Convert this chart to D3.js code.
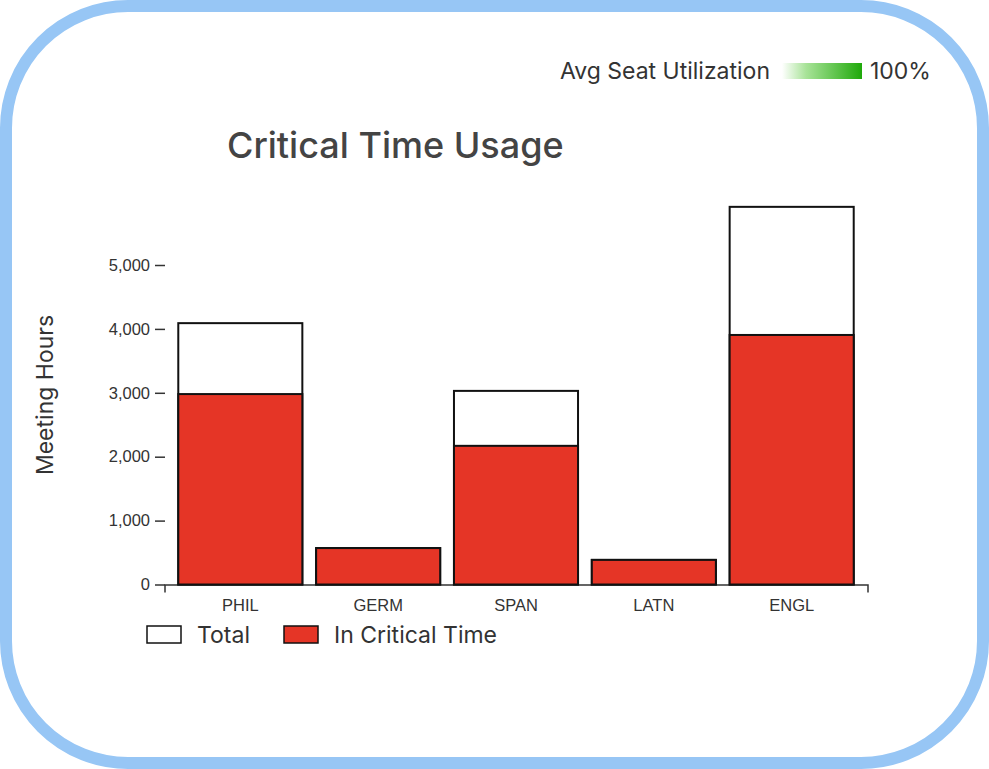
<!DOCTYPE html>
<html lang="en">
<head>
    <meta charset="UTF-8">
    <title>Critical Time Usage</title>
    <script src="https://d3js.org/d3.v7.min.js"></script>
    <style>
        html, body { margin: 0; padding: 0; background: #fff; }
        svg { display: block; }
        .tick text { font: 16.5px "Liberation Sans", sans-serif; fill: #333; }
        .label { font-family: "Inter", sans-serif; font-size: 23px; fill: #333; }
        .title { font-family: "Inter", sans-serif; font-size: 36px; font-weight: 500; fill: #444; }
    </style>
</head>
<body>
    <div id="chart"></div>
    <script>
        const departments = ["PHIL", "GERM", "SPAN", "LATN", "ENGL"];
        const totalHours = [4090, 570, 3030, 385, 5910];
        const criticalHours = [2980, 570, 2170, 385, 3905];
        const yTicks = [0, 1000, 2000, 3000, 4000, 5000];
        const legendItems = ["Total", "In Critical Time"];
        const legendColors = ["#fff", "#e53526"];
        const gradientStops = ["#ffffff", "#a8e398", "#1fa90a"];
        const gradientOffsets = ["0%", "30%", "100%"];

        const width = 989, height = 769;

        const svg = d3.select("#chart").append("svg")
            .attr("width", width)
            .attr("height", height);

        // rounded frame
        svg.append("rect")
            .attr("x", 6).attr("y", 6)
            .attr("width", width - 12).attr("height", height - 12)
            .attr("rx", 122).attr("ry", 122)
            .attr("fill", "#fff")
            .attr("stroke", "#97c6f5")
            .attr("stroke-width", 12);

        const x = d3.scaleBand()
            .domain(departments)
            .range([164.5, 867.5])
            .paddingInner(0.1)
            .paddingOuter(0.1);

        const y = d3.scaleLinear()
            .domain([0, 5000])
            .range([584.5, 265]);

        const xAxis = svg.append("g")
            .attr("transform", "translate(0,584.5)")
            .call(d3.axisBottom(x).tickSizeInner(0).tickSizeOuter(8).tickPadding(15));
        xAxis.select(".domain").attr("stroke", "#333").attr("stroke-width", 1.5);

        const yAxis = svg.append("g")
            .attr("transform", "translate(165,0)")
            .call(d3.axisLeft(y).tickValues(yTicks).tickFormat(d3.format(",")).tickSize(10).tickPadding(5));
        yAxis.select(".domain").remove();
        yAxis.selectAll("line").attr("stroke", "#333").attr("stroke-width", 1.5);

        svg.append("g").selectAll("rect")
            .data(departments)
            .join("rect")
            .attr("x", d => x(d))
            .attr("width", x.bandwidth())
            .attr("y", (d, i) => y(totalHours[i]))
            .attr("height", (d, i) => y(0) - y(totalHours[i]))
            .attr("fill", "#fff")
            .attr("stroke", "#111")
            .attr("stroke-width", 2);

        svg.append("g").selectAll("rect")
            .data(departments)
            .join("rect")
            .attr("x", d => x(d))
            .attr("width", x.bandwidth())
            .attr("y", (d, i) => y(criticalHours[i]))
            .attr("height", (d, i) => y(0) - y(criticalHours[i]))
            .attr("fill", legendColors[1])
            .attr("stroke", "#111")
            .attr("stroke-width", 2);

        svg.append("text")
            .attr("class", "title")
            .attr("x", 227).attr("y", 158)
            .text("Critical Time Usage");

        svg.append("text")
            .attr("class", "label")
            .attr("transform", "translate(53,395) rotate(-90)")
            .attr("text-anchor", "middle")
            .text("Meeting Hours");

        // bottom legend
        const legendX = [147, 284];
        const legend = svg.append("g").selectAll("g")
            .data(legendItems)
            .join("g")
            .attr("transform", (d, i) => `translate(${legendX[i]},626)`);
        legend.append("rect")
            .attr("width", 34).attr("height", 17)
            .attr("fill", (d, i) => legendColors[i])
            .attr("stroke", "#111")
            .attr("stroke-width", 1.5);
        legend.append("text")
            .attr("class", "label")
            .attr("x", 50).attr("y", 17)
            .text(d => d);

        // seat utilization legend
        const grad = svg.append("defs").append("linearGradient").attr("id", "seatGrad");
        grad.selectAll("stop")
            .data(gradientStops)
            .join("stop")
            .attr("offset", (d, i) => gradientOffsets[i])
            .attr("stop-color", d => d);

        svg.append("rect")
            .attr("x", 782).attr("y", 63)
            .attr("width", 80).attr("height", 16)
            .attr("fill", "url(#seatGrad)");

        svg.append("text")
            .attr("class", "label")
            .attr("x", 770).attr("y", 79)
            .attr("text-anchor", "end")
            .text("Avg Seat Utilization");

        svg.append("text")
            .attr("class", "label")
            .attr("x", 870).attr("y", 79)
            .text("100%");
    </script>
</body>
</html>
